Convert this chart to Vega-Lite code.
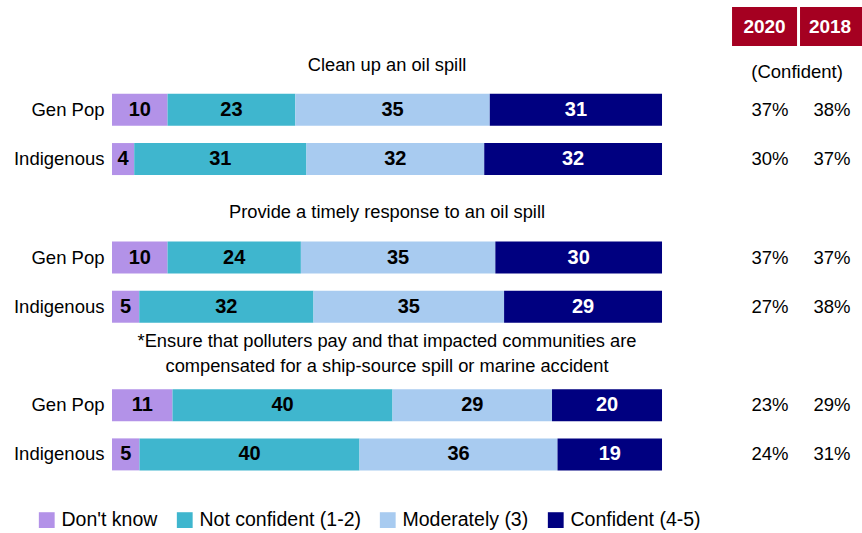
{
  "$schema": "https://vega.github.io/schema/vega-lite/v6.json",
  "width": 750,
  "height": 443,
  "autosize": {"type": "none"},
  "padding": {"left": 112, "top": 36, "right": 0, "bottom": 54},
  "background": "white",
  "config": {"view": {"stroke": null}, "font": "Liberation Sans"},
  "datasets": {
    "bars": [
      {"row": "Gen Pop|1", "cat": "Don't know", "value": 10},
      {"row": "Gen Pop|1", "cat": "Not confident (1-2)", "value": 23},
      {"row": "Gen Pop|1", "cat": "Moderately (3)", "value": 35},
      {"row": "Gen Pop|1", "cat": "Confident (4-5)", "value": 31},
      {"row": "Indigenous|1", "cat": "Don't know", "value": 4},
      {"row": "Indigenous|1", "cat": "Not confident (1-2)", "value": 31},
      {"row": "Indigenous|1", "cat": "Moderately (3)", "value": 32},
      {"row": "Indigenous|1", "cat": "Confident (4-5)", "value": 32},
      {"row": "Gen Pop|2", "cat": "Don't know", "value": 10},
      {"row": "Gen Pop|2", "cat": "Not confident (1-2)", "value": 24},
      {"row": "Gen Pop|2", "cat": "Moderately (3)", "value": 35},
      {"row": "Gen Pop|2", "cat": "Confident (4-5)", "value": 30},
      {"row": "Indigenous|2", "cat": "Don't know", "value": 5},
      {"row": "Indigenous|2", "cat": "Not confident (1-2)", "value": 32},
      {"row": "Indigenous|2", "cat": "Moderately (3)", "value": 35},
      {"row": "Indigenous|2", "cat": "Confident (4-5)", "value": 29},
      {"row": "Gen Pop|3", "cat": "Don't know", "value": 11},
      {"row": "Gen Pop|3", "cat": "Not confident (1-2)", "value": 40},
      {"row": "Gen Pop|3", "cat": "Moderately (3)", "value": 29},
      {"row": "Gen Pop|3", "cat": "Confident (4-5)", "value": 20},
      {"row": "Indigenous|3", "cat": "Don't know", "value": 5},
      {"row": "Indigenous|3", "cat": "Not confident (1-2)", "value": 40},
      {"row": "Indigenous|3", "cat": "Moderately (3)", "value": 36},
      {"row": "Indigenous|3", "cat": "Confident (4-5)", "value": 19}
    ],
    "titles": [
      {"row": "T1", "t": "Clean up an oil spill"},
      {"row": "T2", "t": "Provide a timely response to an oil spill"}
    ],
    "titles2": [
      {"row": "T3", "t": "*Ensure that polluters pay and that impacted communities are\ncompensated for a ship-source spill or marine accident"}
    ],
    "table": [
      {"row": "Gen Pop|1", "y2020": "37%", "y2018": "38%"},
      {"row": "Indigenous|1", "y2020": "30%", "y2018": "37%"},
      {"row": "Gen Pop|2", "y2020": "37%", "y2018": "37%"},
      {"row": "Indigenous|2", "y2020": "27%", "y2018": "38%"},
      {"row": "Gen Pop|3", "y2020": "23%", "y2018": "29%"},
      {"row": "Indigenous|3", "y2020": "24%", "y2018": "31%"}
    ]
  },
  "layer": [
    {
      "data": {"name": "bars"},
      "transform": [{"calculate": "indexof(['Don\\'t know','Not confident (1-2)','Moderately (3)','Confident (4-5)'], datum.cat)", "as": "ord"}],
      "mark": {"type": "bar", "size": 32},
      "encoding": {
        "y": {"field": "row", "type": "nominal", "sort": null,
          "scale": {"domain": ["T1", "Gen Pop|1", "Indigenous|1", "T2", "Gen Pop|2", "Indigenous|2", "T3", "Gen Pop|3", "Indigenous|3"], "paddingInner": 0, "paddingOuter": 0},
          "axis": {"title": null, "domain": false, "ticks": false, "labelFontSize": 18.5, "labelColor": "black", "labelPadding": 8,
            "labelExpr": "indexof(datum.value,'|') > 0 ? split(datum.value,'|')[0] : ''"}},
        "x": {"field": "value", "type": "quantitative", "stack": "normalize", "scale": {"domain": [0, 1.3636], "nice": false, "zero": true}, "axis": null},
        "color": {"field": "cat", "type": "nominal",
          "sort": ["Don't know", "Not confident (1-2)", "Moderately (3)", "Confident (4-5)"],
          "scale": {"domain": ["Don't know", "Not confident (1-2)", "Moderately (3)", "Confident (4-5)"], "range": ["#B392E8", "#3FB6CE", "#A8CBF0", "#000080"]},
          "legend": {"title": null, "orient": "none", "direction": "horizontal", "legendX": -75, "legendY": 474,
            "symbolType": "square", "symbolSize": 250, "symbolStrokeWidth": 0, "symbolOpacity": 1,
            "labelFontSize": 19.5, "labelColor": "black", "labelLimit": 400, "columnPadding": 17, "labelOffset": 5}},
        "order": {"field": "ord", "type": "quantitative"}
      }
    },
    {
      "data": {"name": "bars"},
      "transform": [{"calculate": "indexof(['Don\\'t know','Not confident (1-2)','Moderately (3)','Confident (4-5)'], datum.cat)", "as": "ord"}],
      "mark": {"type": "text", "fontSize": 20, "fontWeight": "bold"},
      "encoding": {
        "y": {"field": "row", "type": "nominal", "sort": null},
        "x": {"field": "value", "type": "quantitative", "stack": "normalize", "bandPosition": 0.5},
        "detail": {"field": "cat"},
        "order": {"field": "ord", "type": "quantitative"},
        "text": {"field": "value"},
        "color": {"condition": {"test": "datum.cat == 'Confident (4-5)'", "value": "white"}, "value": "black"}
      }
    },
    {
      "data": {"name": "titles"},
      "mark": {"type": "text", "fontSize": 18.3, "color": "black", "dy": 5},
      "encoding": {
        "y": {"field": "row", "type": "nominal", "sort": null},
        "x": {"datum": 0.5},
        "text": {"field": "t"}
      }
    },
    {
      "data": {"name": "titles2"},
      "mark": {"type": "text", "fontSize": 18.3, "color": "black", "lineBreak": "\n", "lineHeight": 25, "dy": -14},
      "encoding": {
        "y": {"field": "row", "type": "nominal", "sort": null},
        "x": {"datum": 0.5},
        "text": {"field": "t"}
      }
    },
    {
      "data": {"name": "table"},
      "mark": {"type": "text", "fontSize": 18.5, "color": "black"},
      "encoding": {
        "y": {"field": "row", "type": "nominal", "sort": null},
        "x": {"datum": 1.1964},
        "text": {"field": "y2020"}
      }
    },
    {
      "data": {"name": "table"},
      "mark": {"type": "text", "fontSize": 18.5, "color": "black"},
      "encoding": {
        "y": {"field": "row", "type": "nominal", "sort": null},
        "x": {"datum": 1.3091},
        "text": {"field": "y2018"}
      }
    },
    {
      "data": {"values": [{"label": "2020"}]},
      "mark": {"type": "bar", "color": "#A50021", "size": 39},
      "encoding": {
        "y": {"datum": "T1"},
        "yOffset": {"value": -9.5},
        "x": {"datum": 1.1273},
        "x2": {"datum": 1.2455}
      }
    },
    {
      "data": {"values": [{"label": "2018"}]},
      "mark": {"type": "bar", "color": "#A50021", "size": 39},
      "encoding": {
        "y": {"datum": "T1"},
        "yOffset": {"value": -9.5},
        "x": {"datum": 1.2509},
        "x2": {"datum": 1.3636}
      }
    },
    {
      "data": {"values": [{"label": "2020"}]},
      "mark": {"type": "text", "fontSize": 19, "fontWeight": "bold", "color": "white"},
      "encoding": {
        "y": {"datum": "T1"},
        "yOffset": {"value": -9.5},
        "x": {"datum": 1.1864},
        "text": {"field": "label"}
      }
    },
    {
      "data": {"values": [{"label": "2018"}]},
      "mark": {"type": "text", "fontSize": 19, "fontWeight": "bold", "color": "white"},
      "encoding": {
        "y": {"datum": "T1"},
        "yOffset": {"value": -9.5},
        "x": {"datum": 1.3055},
        "text": {"field": "label"}
      }
    },
    {
      "data": {"values": [{"label": "(Confident)"}]},
      "mark": {"type": "text", "fontSize": 18.5, "color": "black"},
      "encoding": {
        "y": {"datum": "T1"},
        "yOffset": {"value": 36},
        "x": {"datum": 1.2455},
        "text": {"field": "label"}
      }
    }
  ]
}
